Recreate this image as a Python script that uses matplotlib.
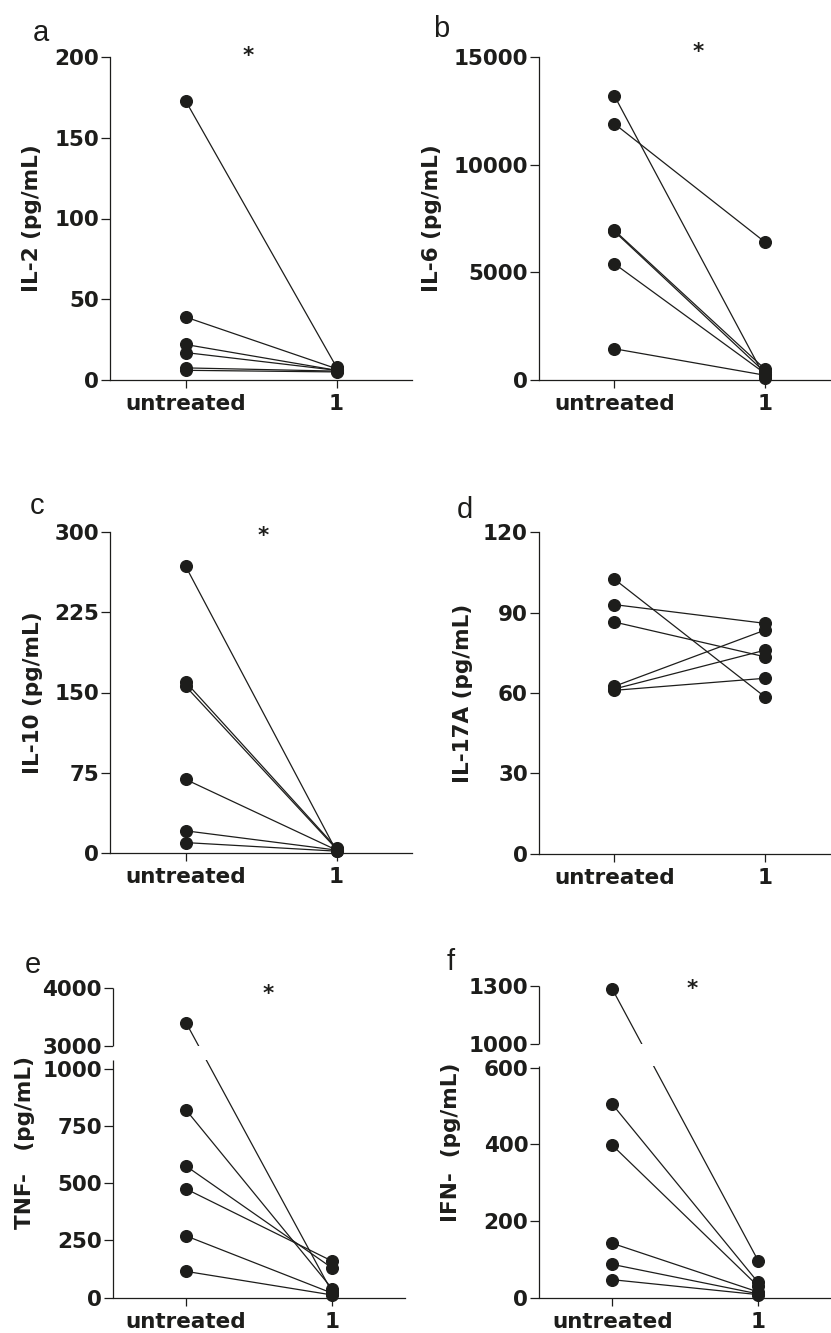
import numpy as np
import matplotlib.pyplot as plt
from matplotlib import transforms

W, H = 831, 1333

plt.rcParams['font.family'] = 'DejaVu Sans'
plt.rcParams['font.weight'] = 'bold'

groups = ['untreated', '1']

# paired values (pg/mL), same donor order in both lists
il2_untreated = [173, 39, 22, 17, 7.5, 6]
il2_treated = [8, 7, 6, 6, 5.5, 5]

il6_untreated = [13200, 11900, 6950, 6900, 5400, 1450]
il6_treated = [100, 6400, 500, 350, 300, 220]

il10_untreated = [268, 160, 156, 69, 21, 10]
il10_treated = [2, 5, 4, 3, 3, 2]

il17_untreated = [102.5, 93, 86.5, 62.5, 61.5, 61]
il17_treated = [58.5, 86, 73.5, 83.5, 76, 65.5]

tnf_untreated = [3400, 820, 575, 475, 270, 115]
tnf_treated = [25, 40, 130, 160, 20, 12]

ifn_untreated = [1285, 505, 398, 142, 87, 47]
ifn_treated = [97, 40, 30, 15, 10, 8]

INK = '#1d1d1b'
FS = 15.5

fig = plt.figure(figsize=(W / 100, H / 100), dpi=100)


def px_axes(l, t, r, b):
    return fig.add_axes([l / W, 1 - b / H, (r - l) / W, (b - t) / H])


def draw_pairs(ax, untreated, treated):
    for u, t in zip(untreated, treated):
        ax.plot([0, 1], [u, t], color=INK, lw=0.9, zorder=2)
    ax.plot([0] * len(untreated), untreated, 'o', ms=8.4, color=INK,
            zorder=4, clip_on=False)
    ax.plot([1] * len(treated), treated, 'o', ms=8.4, color=INK,
            zorder=4, clip_on=False)


def style(ax, xmax, label, label_x):
    ax.set_xlim(-0.5, xmax)
    ax.set_xticks([0, 1])
    ax.set_xticklabels(groups)
    for s in ['top', 'right']:
        ax.spines[s].set_visible(False)
    for s in ['left', 'bottom']:
        ax.spines[s].set_linewidth(0.9)
        ax.spines[s].set_color(INK)
    ax.tick_params(axis='y', length=6.5, width=0.9, pad=1.5, labelsize=FS, colors=INK)
    ax.tick_params(axis='x', length=6, width=0.9, pad=4, labelsize=FS, colors=INK)
    ax.set_ylabel(label, fontsize=FS, fontweight='bold', color=INK)
    ax.yaxis.set_label_coords(label_x, 0.5)


def broken_scale(xp, fp):
    xp = np.asarray(xp, float)
    fp = np.asarray(fp, float)
    return (lambda v: np.interp(v, xp, fp)), (lambda v: np.interp(v, fp, xp))


def break_axis(ax, low_top, high_bottom, high_top):
    ax.spines['left'].set_visible(False)
    tr = transforms.blended_transform_factory(ax.transAxes, ax.transData)
    ax.plot([0, 0], [0, low_top], transform=tr, color=INK, lw=0.9,
            clip_on=False, zorder=5, solid_capstyle='butt')
    ax.plot([0, 0], [high_bottom, high_top], transform=tr, color=INK, lw=0.9,
            clip_on=False, zorder=5, solid_capstyle='butt')
    ax.axhspan(low_top, high_bottom, color='white', lw=0, zorder=3)


def fig_text(x, y, s, **kw):
    fig.text(x / W, 1 - y / H, s, **kw)


# a: IL-2
ax = px_axes(110, 57, 412, 380)
draw_pairs(ax, il2_untreated, il2_treated)
ax.set_ylim(0, 200)
ax.set_yticks([0, 50, 100, 150, 200])
style(ax, 1.5, 'IL-2 (pg/mL)', -0.225)

# b: IL-6
ax = px_axes(539, 57, 831, 380)
draw_pairs(ax, il6_untreated, il6_treated)
ax.set_ylim(0, 15000)
ax.set_yticks([0, 5000, 10000, 15000])
style(ax, 1.437, 'IL-6 (pg/mL)', -0.332)

# c: IL-10
ax = px_axes(110, 531.7, 412, 853.3)
draw_pairs(ax, il10_untreated, il10_treated)
ax.set_ylim(0, 300)
ax.set_yticks([0, 75, 150, 225, 300])
style(ax, 1.5, 'IL-10 (pg/mL)', -0.222)

# d: IL-17A
ax = px_axes(539, 532.3, 831, 853.7)
draw_pairs(ax, il17_untreated, il17_treated)
ax.set_ylim(0, 120)
ax.set_yticks([0, 30, 60, 90, 120])
style(ax, 1.437, 'IL-17A (pg/mL)', -0.226)

# e: TNF (broken y axis)
ax = px_axes(113, 988, 405, 1297.7)
fwd, inv = broken_scale([-1e5, 1040, 3000, 1e5],
                        [-1e5, 1040, 1100.3, 1100.3 + (1e5 - 3000) * 0.252])
ax.set_yscale('function', functions=(fwd, inv))
draw_pairs(ax, tnf_untreated, tnf_treated)
ax.set_ylim(0, 4000)
ax.set_yticks([0, 250, 500, 750, 1000, 3000, 4000])
ax.set_yticklabels(['0', '250', '500', '750', '1000', '3000', '4000'])
style(ax, 1.5, 'TNF-   (pg/mL)', -0.267)
break_axis(ax, 1038, 3000, 4000)

# f: IFN (broken y axis)
ax = px_axes(539.3, 986, 831, 1297.7)
fwd, inv = broken_scale([-1e5, 610, 1000, 1e5],
                        [-1e5, 610, 661.9, 661.9 + (1e5 - 1000) * 0.5044])
ax.set_yscale('function', functions=(fwd, inv))
draw_pairs(ax, ifn_untreated, ifn_treated)
ax.set_ylim(0, 1300)
ax.set_yticks([0, 200, 400, 600, 1000, 1300])
ax.set_yticklabels(['0', '200', '400', '600', '1000', '1300'])
style(ax, 1.5, 'IFN-  (pg/mL)', -0.27)
break_axis(ax, 605, 1000, 1300)

# panel letters
letter_kw = dict(family='Liberation Sans', fontweight='normal', fontsize=21,
                 color=INK, ha='center', va='baseline')
for x, y, s in [(41, 41, 'a'), (441, 37, 'b'), (37, 514, 'c'),
                (465, 518, 'd'), (33, 973, 'e'), (451, 970, 'f')]:
    fig_text(x, y, s, **letter_kw)

# significance stars
for x, y in [(248, 46), (698, 42), (263, 526), (268, 984), (692, 979)]:
    fig_text(x, y, '*', fontsize=FS, fontweight='bold', color=INK,
             ha='center', va='top')

fig.savefig('out.png', dpi=100)
